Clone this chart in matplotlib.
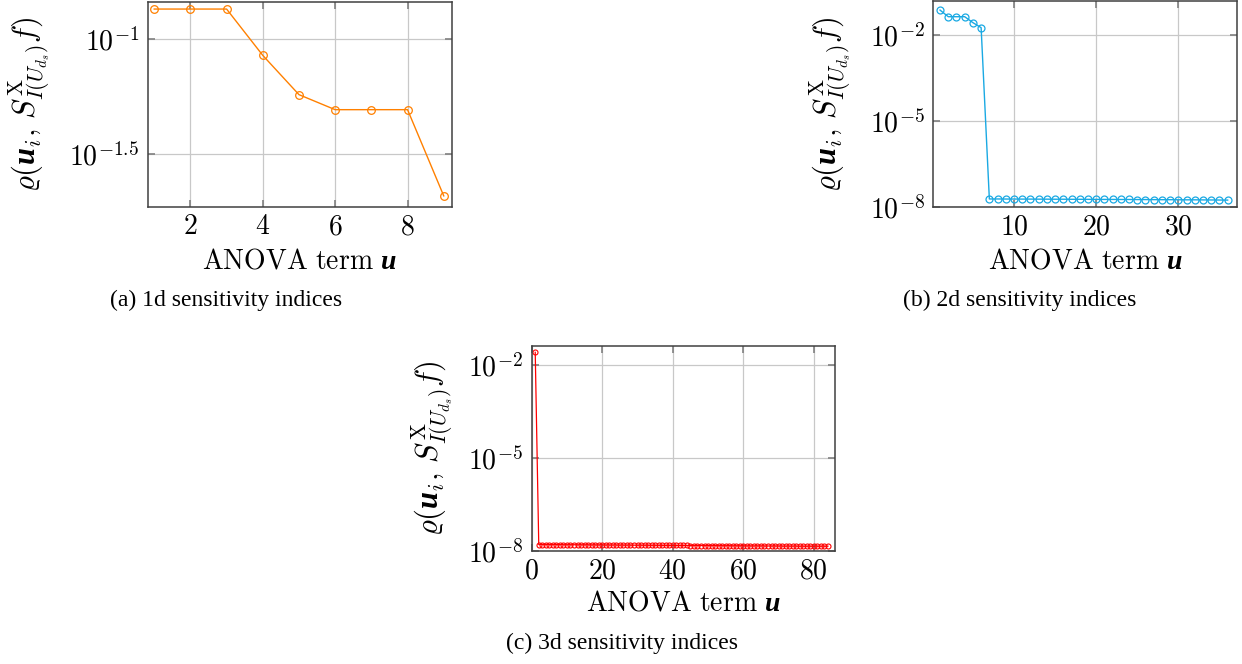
import matplotlib
matplotlib.use("Agg")
import matplotlib.pyplot as plt
import numpy as np

plt.rcParams['mathtext.fontset'] = 'custom'
plt.rcParams['mathtext.rm'] = 'cmr10'
plt.rcParams['mathtext.it'] = 'cmmi10'
plt.rcParams['mathtext.bf'] = 'cmb10'
plt.rcParams['mathtext.bfit'] = 'Liberation Serif:italic:bold'
plt.rcParams['mathtext.fallback'] = 'cm'
plt.rcParams['font.family'] = ['Liberation Serif', 'DejaVu Serif']

# ---------------- data ----------------
terms_1d = list(range(1, 10))
rho_1d = [0.135, 0.135, 0.135, 0.0849, 0.0573, 0.0493, 0.0493, 0.0493, 0.0208]

terms_2d = list(range(1, 37))
rho_2d = [0.073, 0.043, 0.043, 0.043, 0.0267, 0.0179] + [v * 1e-8 for v in [
    1.95, 1.95, 1.94, 1.94, 1.93, 1.93, 1.92, 1.92, 1.91, 1.91,
    1.90, 1.90, 1.89, 1.89, 1.88, 1.88, 1.87, 1.87, 1.86, 1.86,
    1.85, 1.84, 1.84, 1.83, 1.82, 1.82, 1.81, 1.80, 1.79, 1.78]]

terms_3d = list(range(1, 85))
rho_3d = [0.0257] + [v * 1e-8 for v in [
    1.58, 1.58, 1.58, 1.57, 1.57, 1.57, 1.57, 1.56, 1.56, 1.56,
    1.56, 1.55, 1.55, 1.55, 1.55, 1.54, 1.54, 1.54, 1.54, 1.53,
    1.53, 1.53, 1.53, 1.52, 1.52, 1.52, 1.52, 1.51, 1.51, 1.51,
    1.51, 1.50, 1.50, 1.50, 1.50, 1.49, 1.49, 1.49, 1.49, 1.48,
    1.48, 1.48, 1.48, 1.47, 1.47, 1.47, 1.47, 1.46, 1.46, 1.46,
    1.46, 1.45, 1.45, 1.45, 1.45, 1.44, 1.44, 1.44, 1.44, 1.43,
    1.43, 1.43, 1.43, 1.43, 1.42, 1.42, 1.42, 1.42, 1.42, 1.41,
    1.41, 1.41, 1.41, 1.41, 1.40, 1.40, 1.40, 1.40, 1.40, 1.40,
    1.40, 1.40, 1.40]]

xticks_1d = [2, 4, 6, 8]
yticks_1d = [10 ** -1, 10 ** -1.5]
ytick_labels_1d = [r'$10^{-1}$', r'$10^{-1.5}$']
xticks_2d = [10, 20, 30]
yticks_2d = [1e-2, 1e-5, 1e-8]
ytick_labels_2d = [r'$10^{-2}$', r'$10^{-5}$', r'$10^{-8}$']
xticks_3d = [0, 20, 40, 60, 80]
yticks_3d = [1e-2, 1e-5, 1e-8]
ytick_labels_3d = [r'$10^{-2}$', r'$10^{-5}$', r'$10^{-8}$']

captions = ['(a) 1d sensitivity indices', '(b) 2d sensitivity indices',
            '(c) 3d sensitivity indices']

W, H = 1242, 664
fig = plt.figure(figsize=(W / 100, H / 100), dpi=100)


def box(l, r, t, b):
    return [l / W, 1 - b / H, (r - l) / W, (b - t) / H]


YLABEL = r'$\varrho(\mathbfit{u}_i,\, S^{\mathrm{X}}_{I(U_{d_s})} f)$'
XLABEL = r'$\mathrm{ANOVA\ term}\ \mathbfit{u}$'
FS = 20
YFS = 22


def style(ax, xticks, yticks, ylabels):
    ax.set_yscale('log')
    ax.set_xticks(xticks)
    ax.set_xticklabels([rf'${t}$' for t in xticks])
    ax.set_yticks(yticks)
    ax.set_yticklabels(ylabels)
    ax.minorticks_off()
    ax.grid(True, color='#c8c8c8', linewidth=0.9)
    ax.set_axisbelow(True)
    ax.tick_params(direction='in', length=5, width=1.2, color='#808080',
                   top=True, right=True, labelsize=FS, pad=6)
    for s in ax.spines.values():
        s.set_color('#404040')
        s.set_linewidth(1.1)


# (a)
axa = fig.add_axes(box(147.7, 451.7, 2, 206.7))
axa.plot(terms_1d, rho_1d, color='#ff8000', lw=1.0, marker='o', ms=5.5,
         mfc='none', mew=0.9)
style(axa, xticks_1d, yticks_1d, ytick_labels_1d)
axa.set_xlim(0.82, 9.22)
axa.set_ylim(10 ** -1.729, 10 ** -0.839)

# (b)
axb = fig.add_axes(box(933.3, 1236.7, 1, 207.3))
axb.plot(terms_2d, rho_2d, color='#1aa9e3', lw=1.0, marker='o', ms=5.0,
         mfc='none', mew=0.9)
style(axb, xticks_2d, yticks_2d, ytick_labels_2d)
axb.set_xlim(0.18, 37.1)
axb.set_ylim(1e-8, 10 ** -0.82)

# (c)
axc = fig.add_axes(box(531.7, 835, 345.7, 550.7))
axc.plot(terms_3d, rho_3d, color='#ff0000', lw=0.9, marker='o', ms=3.6,
         mfc='none', mew=0.8)
style(axc, xticks_3d, yticks_3d, ytick_labels_3d)
axc.set_xlim(0, 86)
axc.set_ylim(1e-8, 10 ** -1.377)

# axis labels
for ax, cx, ly, yx in [(axa, 299.7, 262, 29), (axb, 1085, 262, 830), (axc, 683, 604, 432)]:
    fig.text(cx / W, 1 - ly / H, XLABEL, ha='center', va='center', fontsize=FS)
    ax_pos = ax.get_position()
    fig.text(yx / W, ax_pos.y0 + ax_pos.height / 2, YLABEL, ha='center',
             va='center', rotation=90, fontsize=YFS)

# captions
for txt, cx, cy in zip(captions, [226, 1020, 622], [300, 300, 643]):
    fig.text(cx / W, 1 - cy / H, txt, ha='center', va='center', fontsize=17,
             family=['Liberation Serif', 'DejaVu Serif'])

fig.savefig('out.png', dpi=100)
